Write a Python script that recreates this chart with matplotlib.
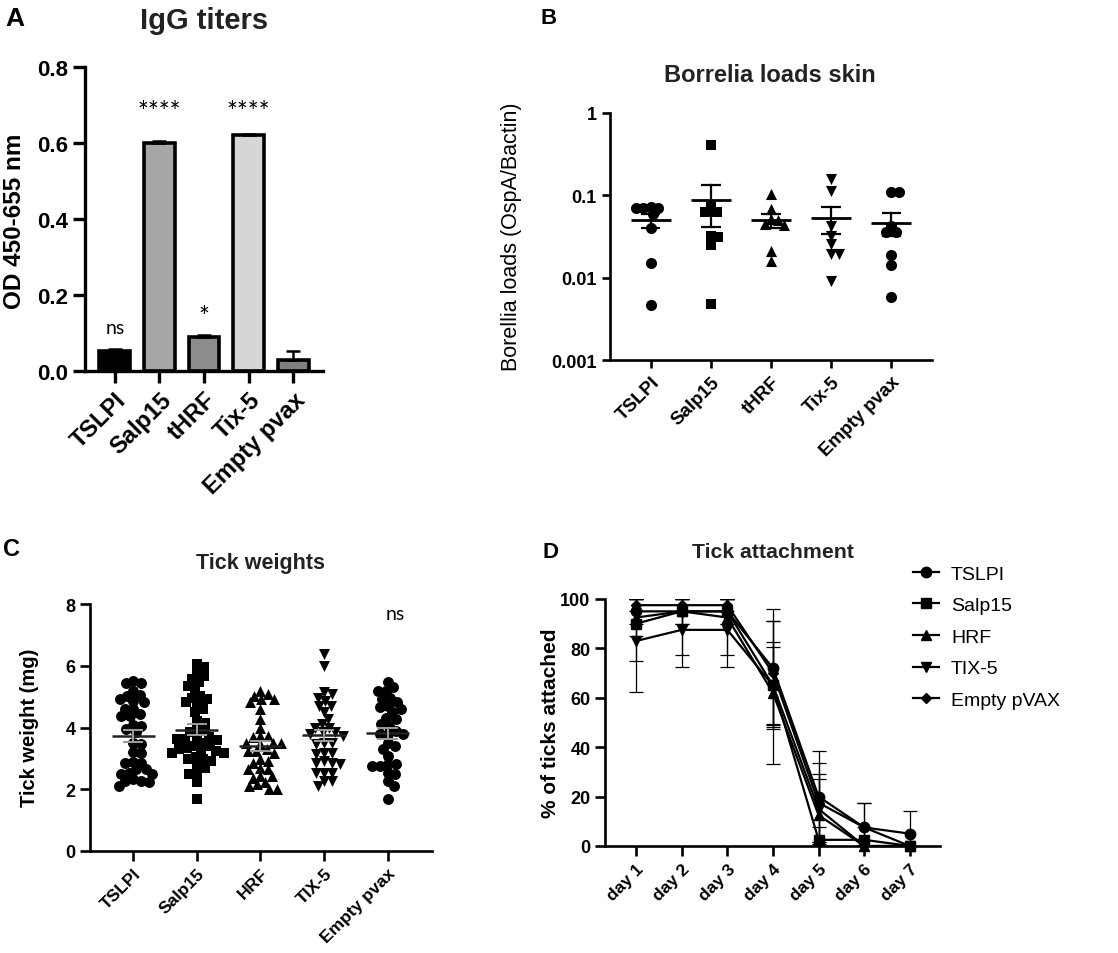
import numpy as np
import matplotlib

matplotlib.use("Agg")

import matplotlib.pyplot as plt
from matplotlib.lines import Line2D

plt.rcParams["font.family"] = ["Liberation Sans", "DejaVu Sans"]

# --- Dados -----------------------------------------------------------------
grupos_a = ["TSLPI", "Salp15", "tHRF", "Tix-5", "Empty pvax"]
igg_od = [0.053, 0.600, 0.090, 0.620, 0.028]
igg_err = [0.004, 0.006, 0.006, 0.003, 0.024]
igg_sig = ["ns", "****", "*", "****", ""]

grupos_b = ["TSLPI", "Salp15", "tHRF", "Tix-5", "Empty pvax"]
skin_tslpi = [0.072, 0.059, 0.070, 0.070, 0.071, 0.040, 0.015, 0.0046]
skin_salp15 = [0.41, 0.0715, 0.062, 0.063, 0.032, 0.0316, 0.0249, 0.0048]
skin_hrf = [0.104, 0.068, 0.050, 0.045, 0.044, 0.051, 0.021, 0.016]
skin_tix5 = [0.158, 0.114, 0.042, 0.032, 0.0256, 0.0194, 0.0194, 0.0092]
skin_empty = [0.109, 0.110, 0.042, 0.036, 0.036, 0.0188, 0.0143, 0.0058]

grupos_c = ["TSLPI", "Salp15", "HRF", "TIX-5", "Empty pvax"]
peso_tslpi = [5.51, 5.44, 5.44, 5.05, 5.19, 5.03, 4.83, 4.86, 4.92, 4.59, 4.59,
              4.38, 4.43, 4.36, 4.05, 4.08, 3.95, 3.84, 3.51, 3.46, 3.19, 3.21,
              2.89, 2.86, 2.84, 2.65, 2.65, 2.54, 2.49, 2.49, 2.22, 2.32, 2.27,
              2.27, 2.11]
peso_salp15 = [6.05, 5.95, 5.78, 5.68, 5.57, 5.46, 5.35, 5.24, 4.97, 5.03, 4.92,
               4.81, 4.76, 4.59, 4.49, 4.22, 4.16, 3.95, 3.89, 3.84, 3.68, 3.68,
               3.62, 3.62, 3.60, 3.50, 3.41, 3.41, 3.35, 3.30, 3.24, 3.24, 3.19,
               3.19, 3.05, 2.97, 2.97, 2.92, 2.76, 2.70, 2.49, 2.49, 2.22, 1.68]
peso_hrf = [5.08, 5.19, 5.03, 4.92, 4.92, 4.81, 4.59, 4.27, 4.00, 3.68, 3.73,
            3.73, 3.51, 3.46, 3.51, 3.51, 3.30, 3.19, 3.24, 3.24, 2.97, 2.92,
            2.86, 2.70, 2.65, 2.65, 2.43, 2.43, 2.38, 2.11, 2.22, 2.00, 2.00,
            2.16]
peso_tix5 = [6.38, 6.00, 5.14, 5.08, 4.97, 4.86, 4.70, 4.70, 4.49, 4.27, 4.11,
             4.00, 4.00, 3.84, 3.84, 3.78, 3.73, 3.51, 3.46, 3.51, 3.19, 3.19,
             3.14, 2.92, 2.81, 2.86, 2.86, 2.54, 2.54, 2.54, 2.27, 2.27, 2.11]
peso_empty = [5.48, 5.30, 5.19, 5.19, 4.97, 4.92, 4.81, 4.70, 4.65, 4.59, 4.49,
              4.32, 4.27, 4.11, 4.05, 3.89, 3.78, 3.78, 3.78, 3.51, 3.41, 3.30,
              3.08, 2.81, 2.76, 2.81, 2.76, 2.54, 2.49, 2.27, 2.11, 1.68]

dias = ["day 1", "day 2", "day 3", "day 4", "day 5", "day 6", "day 7"]
series_d = ["TSLPI", "Salp15", "HRF", "TIX-5", "Empty pVAX"]
fix_tslpi = [95, 95, 95, 72, 20, 7.5, 5]
fix_salp15 = [90, 95, 95, 65, 2.5, 2.5, 0]
fix_hrf = [92.5, 95, 92.5, 62, 12.5, 0, 0]
fix_tix5 = [83, 87.5, 87.5, 65, 15, 0, 0]
fix_empty = [97.5, 97.5, 97.5, 70, 17.5, 7.5, 0]
err_tslpi = [5, 5, 5, 24, 18.5, 10, 9]
err_salp15 = [15, 17.5, 5, 17.5, 5, 5, 0]
err_hrf = [7.5, 5, 15, 29, 14.5, 0, 0]
err_tix5 = [20.5, 15, 15, 15.5, 14, 0, 0]
err_empty = [2.5, 2.5, 2.5, 21, 16, 10, 0]

# --- Layout (pixels) -------------------------------------------------------
W, H = 1118, 954
fig = plt.figure(figsize=(W / 100, H / 100), dpi=100)


def eixo(esq, topo, dir_, base):
    return fig.add_axes([esq / W, 1 - base / H, (dir_ - esq) / W, (base - topo) / H])


def texto(x, y, s, **kw):
    fig.text(x / W, 1 - y / H, s, ha="center", va="center", **kw)


def estilo(ax, lw, tam_tick, fs_tick):
    for lado in ("top", "right"):
        ax.spines[lado].set_visible(False)
    for lado in ("left", "bottom"):
        ax.spines[lado].set_linewidth(lw)
    ax.tick_params(direction="out", length=tam_tick, width=lw, labelsize=fs_tick)
    for lab in ax.get_yticklabels():
        lab.set_fontweight("bold")


def rotular_x(ax, nomes, fs):
    ax.set_xticks(range(len(nomes)))
    ax.set_xticklabels(nomes, rotation=45, ha="right", rotation_mode="anchor",
                       fontsize=fs, fontweight="bold")


def enxame(ax, valores, d_px):
    """Deslocamentos em x (unidades de dado) estilo beeswarm."""
    v = np.asarray(valores, float)
    y = ax.transData.transform(np.column_stack([np.zeros(len(v)), v]))[:, 1]
    xs = np.full(len(v), np.nan)
    for i in np.argsort(-y):
        feitos = np.where(~np.isnan(xs))[0]
        cands = [0.0]
        for j in feitos:
            dy = y[i] - y[j]
            if abs(dy) < d_px:
                dx = np.sqrt(d_px ** 2 - dy ** 2)
                cands += [xs[j] + dx, xs[j] - dx]
        cands.sort(key=abs)
        for c in cands:
            if all((c - xs[j]) ** 2 + (y[i] - y[j]) ** 2 >= d_px ** 2 - 1e-6 for j in feitos):
                xs[i] = c
                break
    ppu = ax.transData.transform((1, 0))[0] - ax.transData.transform((0, 0))[0]
    return xs / ppu


def media_sem(ax, i, vals, meia, cap, cor_m, cor_s, lw):
    vals = np.asarray(vals, float)
    m = vals.mean()
    s = vals.std(ddof=1) / np.sqrt(len(vals))
    ax.plot([i - meia, i + meia], [m, m], color=cor_m, lw=lw, zorder=5, solid_capstyle="butt")
    ax.plot([i, i], [m - s, m + s], color=cor_s, lw=lw * 0.8, zorder=5)
    for yy in (m - s, m + s):
        ax.plot([i - cap, i + cap], [yy, yy], color=cor_s, lw=lw * 0.8, zorder=5,
                solid_capstyle="butt")


# --- A: IgG titers ---------------------------------------------------------
ax = eixo(85, 68, 323, 372)
cores_a = ["#000000", "#a6a6a6", "#8c8c8c", "#d6d6d6", "#808080"]
xa = np.arange(len(grupos_a))
ax.bar(xa, igg_od, width=0.69, color=cores_a, edgecolor="black", linewidth=2.6, zorder=2)
ax.errorbar(xa, igg_od, yerr=[np.zeros(len(xa)), igg_err], fmt="none", ecolor="black",
            elinewidth=1.8, capsize=5, capthick=1.8, zorder=3)
ax.set_xlim(-0.67, 4.67)
ax.set_ylim(0, 0.8)
ax.set_yticks([0, 0.2, 0.4, 0.6, 0.8])
ax.set_yticklabels(["0.0", "0.2", "0.4", "0.6", "0.8"])
estilo(ax, 2.4, 8.5, 16)
rotular_x(ax, grupos_a, 17)
alturas_sig = {"ns": (0.115, 14), "****": (0.68, 18.5), "*": (0.14, 18.5)}
for i, s in enumerate(igg_sig):
    if s:
        y, fs = alturas_sig[s]
        ax.text(i, y, s, ha="center", va="center", fontsize=fs,
                family=["Lato", "DejaVu Sans"])
texto(15, 19, "A", fontsize=19, fontweight="bold")
texto(204, 21, "IgG titers", fontsize=21, fontweight="bold", color="#222222")
texto(15, 221, "OD 450-655 nm", fontsize=17.5, fontweight="bold", rotation=90)

# --- B: Borrelia loads skin ------------------------------------------------
ax = eixo(610, 114, 932, 361)
ax.set_yscale("log")
ax.set_xlim(-0.68, 4.68)
ax.set_ylim(0.001, 1)
ax.set_yticks([0.001, 0.01, 0.1, 1])
ax.set_yticklabels(["0.001", "0.01", "0.1", "1"])
ax.yaxis.set_minor_locator(matplotlib.ticker.NullLocator())
estilo(ax, 1.9, 6, 13)
rotular_x(ax, grupos_b, 13.5)
marcadores = ["o", "s", "^", "v", "o"]
tam_b = [64, 54, 64, 64, 64]
for i, vals in enumerate([skin_tslpi, skin_salp15, skin_hrf, skin_tix5, skin_empty]):
    dx = enxame(ax, vals, 7.5)
    ax.scatter(i + dx, vals, marker=marcadores[i], s=tam_b[i], color="black",
               linewidths=0, zorder=3, clip_on=False)
    media_sem(ax, i, vals, 0.33, 0.16, "black", "black", 2.0)
texto(549, 19, "B", fontsize=16, fontweight="bold")
texto(770, 75, "Borrelia loads skin", fontsize=17, fontweight="bold", color="#222222")
texto(511, 237, "Borellia loads (OspA/Bactin)", fontsize=15.5, rotation=90)

# --- C: Tick weights -------------------------------------------------------
ax = eixo(90, 605, 432, 852)
ax.set_xlim(-0.68, 4.7)
ax.set_ylim(0, 8)
ax.set_yticks([0, 2, 4, 6, 8])
estilo(ax, 1.9, 7, 13)
rotular_x(ax, grupos_c, 12.5)
tam_c = [62, 52, 62, 62, 62]
for i, vals in enumerate([peso_tslpi, peso_salp15, peso_hrf, peso_tix5, peso_empty]):
    dx = enxame(ax, vals, 8.0)
    ax.scatter(i + dx, vals, marker=marcadores[i], s=tam_c[i], color="black",
               linewidths=0, zorder=3, clip_on=False)
    media_sem(ax, i, vals, 0.34, 0.16, "#222222", "#9a9a9a", 1.8)
ax.text(4.12, 7.68, "ns", ha="center", va="center", fontsize=14,
        family=["Lato", "DejaVu Sans"])
texto(12, 550, "C", fontsize=17, fontweight="bold")
texto(260, 564, "Tick weights", fontsize=15.5, fontweight="bold", color="#222222")
texto(30, 728, "Tick weight (mg)", fontsize=14.5, fontweight="bold", rotation=90)

# --- D: Tick attachment ----------------------------------------------------
ax = eixo(605, 600, 940, 847)
xd = np.arange(1, len(dias) + 1)
ax.set_xlim(0.32, 7.66)
ax.set_ylim(0, 100)
ax.set_yticks([0, 20, 40, 60, 80, 100])
estilo(ax, 1.9, 7, 13)
ax.set_xticks(xd)
ax.set_xticklabels(dias, rotation=45, ha="right", rotation_mode="anchor",
                   fontsize=12.5, fontweight="bold")
marc_d = ["o", "s", "^", "v", "D"]
tam_d = [7.5, 7, 7.5, 7.5, 5.5]
handles = []
for k, (ys, es) in enumerate(zip([fix_tslpi, fix_salp15, fix_hrf, fix_tix5, fix_empty],
                                 [err_tslpi, err_salp15, err_hrf, err_tix5, err_empty])):
    ys = np.asarray(ys, float)
    es = np.asarray(es, float)
    baixo = np.minimum(es, ys)
    cima = np.minimum(es, 100 - ys)
    ax.errorbar(xd, ys, yerr=[baixo, cima], fmt="none", ecolor="black", elinewidth=0.9,
                capsize=5, capthick=0.9, zorder=2)
    ax.plot(xd, ys, color="black", lw=1.6, marker=marc_d[k], markersize=tam_d[k],
            zorder=3, clip_on=False)
    handles.append(Line2D([], [], color="black", lw=1.6, marker=marc_d[k],
                          markersize=tam_d[k]))
fig.legend(handles, series_d, loc="upper left", bbox_to_anchor=(913 / W, 1 - 566 / H),
           frameon=False, fontsize=14, handlelength=1.35, handletextpad=0.6,
           labelspacing=0.72, borderpad=0, borderaxespad=0)
texto(551, 552, "D", fontsize=16, fontweight="bold")
texto(773, 552, "Tick attachment", fontsize=15.3, fontweight="bold", color="#222222")
texto(550, 723, "% of ticks attached", fontsize=15, fontweight="bold", rotation=90)

fig.savefig("out.png", dpi=100, facecolor="white")
